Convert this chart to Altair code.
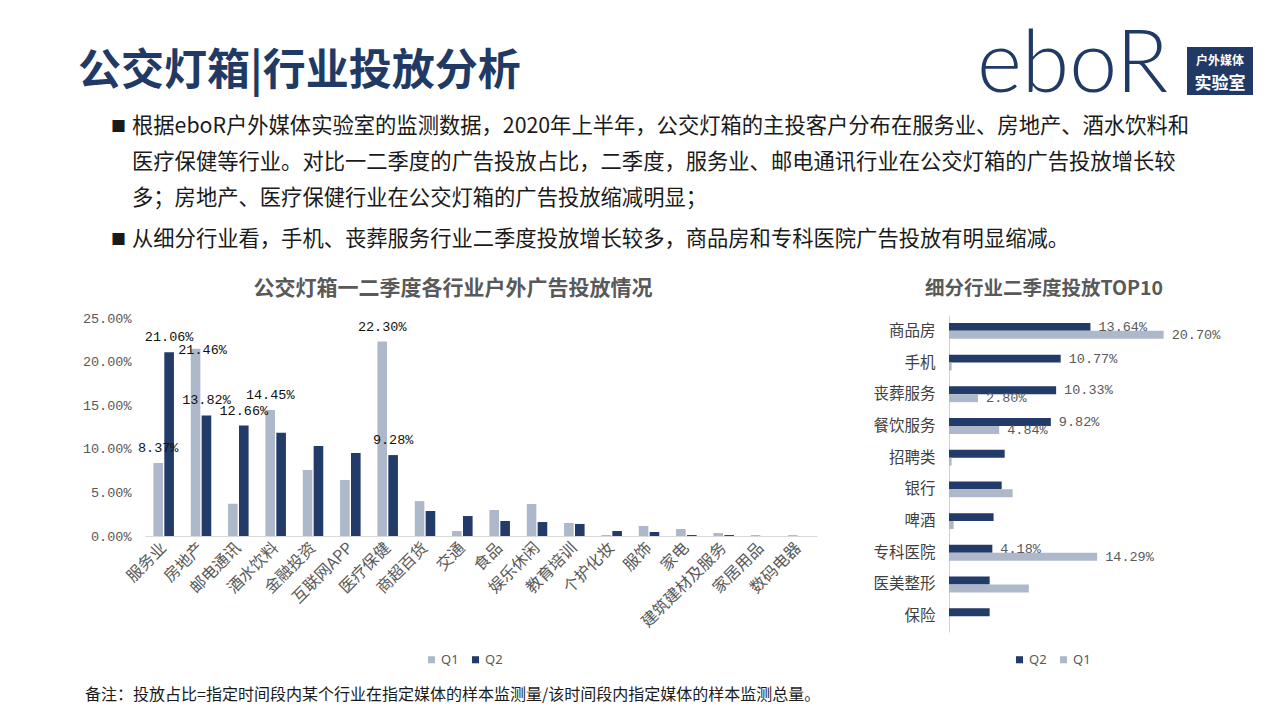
import altair as alt
import pandas as pd

# ---------------- data ----------------
left_cats = ["服务业", "房地产", "邮电通讯", "酒水饮料", "金融投资", "互联网APP", "医疗保健",
             "商超百货", "交通", "食品", "娱乐休闲", "教育培训", "个护化妆", "服饰", "家电",
             "建筑建材及服务", "家居用品", "数码电器"]
left_q1 = [8.37, 21.46, 3.70, 14.45, 7.57, 6.42, 22.30, 4.00, 0.57, 2.98, 3.67, 1.49, 0.11,
           1.15, 0.80, 0.34, 0.11, 0.11]
left_q2 = [21.06, 13.82, 12.66, 11.85, 10.32, 9.52, 9.28, 2.87, 2.29, 1.72, 1.60, 1.38, 0.57,
           0.46, 0.11, 0.11, 0.00, 0.00]
left_labeled = [("服务业", "Q1"), ("服务业", "Q2"), ("房地产", "Q1"), ("房地产", "Q2"),
                ("邮电通讯", "Q2"), ("酒水饮料", "Q1"), ("医疗保健", "Q1"), ("医疗保健", "Q2")]
# the one label that sits beside its bar instead of above it
left_side_label = ("房地产", "Q1")

right_cats = ["商品房", "手机", "丧葬服务", "餐饮服务", "招聘类", "银行", "啤酒", "专科医院",
              "医美整形", "保险"]
right_q2 = [13.64, 10.77, 10.33, 9.82, 5.37, 5.08, 4.30, 4.18, 3.92, 3.92]
right_q1 = [20.70, 0.25, 2.80, 4.84, 0.25, 6.14, 0.45, 14.29, 7.70, 0.00]
right_labeled = [("商品房", "Q2"), ("商品房", "Q1"), ("手机", "Q2"), ("丧葬服务", "Q2"),
                 ("丧葬服务", "Q1"), ("餐饮服务", "Q2"), ("餐饮服务", "Q1"),
                 ("专科医院", "Q2"), ("专科医院", "Q1")]

page_title = "公交灯箱|行业投放分析"
bullet_lines = [
    "根据eboR户外媒体实验室的监测数据，2020年上半年，公交灯箱的主投客户分布在服务业、房地产、酒水饮料和",
    "医疗保健等行业。对比一二季度的广告投放占比，二季度，服务业、邮电通讯行业在公交灯箱的广告投放增长较",
    "多；房地产、医疗保健行业在公交灯箱的广告投放缩减明显；",
    "从细分行业看，手机、丧葬服务行业二季度投放增长较多，商品房和专科医院广告投放有明显缩减。",
]
left_title = "公交灯箱一二季度各行业户外广告投放情况"
right_title = "细分行业二季度投放TOP10"
footnote = "备注：投放占比=指定时间段内某个行业在指定媒体的样本监测量/该时间段内指定媒体的样本监测总量。"

# ---------------- styles ----------------
NAVY = "#213A65"
LIGHT = "#ADB9CA"
DARK = "#233B68"
GRAY = "#595959"
CJK = "Noto Sans CJK SC"
MONO = "Liberation Mono"

rows = []
for c, a, b in zip(left_cats, left_q1, left_q2):
    for q, v in (("Q1", a), ("Q2", b)):
        rows.append({"行业": c, "季度": q, "占比": v,
                     "标注": (c, q) in left_labeled and (c, q) != left_side_label,
                     "侧标": (c, q) == left_side_label})
ldf = pd.DataFrame(rows)
ldf["文本"] = ldf["占比"].map(lambda v: f"{v:.2f}%")

rows = []
for c, a, b in zip(right_cats, right_q1, right_q2):
    rows.append({"细分行业": c, "季度": "Q2", "占比": b, "标注": (c, "Q2") in right_labeled})
    rows.append({"细分行业": c, "季度": "Q1", "占比": a, "标注": (c, "Q1") in right_labeled})
rdf = pd.DataFrame(rows)
rdf["文本"] = rdf["占比"].map(lambda v: f"{v:.2f}%")


def txt(s, x, y, size, color="#1a1a1a", weight="normal", align="left", font=CJK,
        baseline="middle"):
    return alt.Chart(alt.Data(values=[{"k": 1}])).mark_text(
        text=s, fontSize=size, color=color, fontWeight=weight, align=align, font=font,
        baseline=baseline
    ).encode(x=alt.value(x), y=alt.value(y))


# ---------------- left chart ----------------
lx = alt.X("行业:N", sort=left_cats,
           scale=alt.Scale(domain=left_cats, range=[145, 817], paddingInner=0.45, paddingOuter=0.225),
           axis=alt.Axis(orient="bottom", offset=-184, title=None, labelAngle=315,
                         labelAlign="right", labelBaseline="middle", labelPadding=9,
                         labelFont=CJK, labelFontSize=16, labelColor=GRAY, labelOverlap=False,
                         ticks=False, tickSize=0, domainColor="#d9d9d9", grid=False))
ly = alt.Y("占比:Q",
           scale=alt.Scale(domain=[0, 25], range=[536, 318], nice=False, zero=True),
           axis=alt.Axis(orient="left", offset=-145, title=None, values=[0, 5, 10, 15, 20, 25],
                         labelExpr="format(datum.value, '.2f') + '%'", labelFont=MONO,
                         labelFontSize=13.5, labelColor=GRAY, labelPadding=14, domain=False,
                         ticks=False, tickSize=0, grid=False))
lxo = alt.XOffset("季度:N", sort=["Q1", "Q2"], scale=alt.Scale(domain=["Q1", "Q2"], paddingInner=0.12))
lcolor = alt.Color("季度:N",
                   scale=alt.Scale(domain=["Q1", "Q2"], range=[LIGHT, DARK]),
                   legend=alt.Legend(orient="none", legendX=425, legendY=653, direction="horizontal",
                                     title=None, symbolType="square", symbolSize=50,
                                     symbolStrokeWidth=0, labelFont="Noto Sans", labelFontSize=13,
                                     labelColor=GRAY, columnPadding=10, padding=0, labelOffset=3))

left_bars = alt.Chart(ldf).mark_bar().encode(x=lx, y=ly, xOffset=lxo, color=lcolor)
left_labels = alt.Chart(ldf).transform_filter("datum['标注']").mark_text(
    font=MONO, fontSize=13.5, color="#111111", baseline="bottom", dy=-8
).encode(x=lx, y=ly, xOffset=lxo, text="文本:N")
left_side = alt.Chart(ldf).transform_filter("datum['侧标']").mark_text(
    font=MONO, fontSize=13.5, color="#111111", baseline="middle", align="center", dx=7, dy=1
).encode(x=lx, y=ly, xOffset=lxo, text="文本:N")
left_chart = alt.layer(left_bars, left_labels, left_side)

# ---------------- right chart ----------------
ry = alt.Y("细分行业:N", sort=right_cats,
           scale=alt.Scale(domain=right_cats, range=[315, 632], paddingInner=0.5, paddingOuter=0.25),
           axis=alt.Axis(orient="left", offset=-949, title=None, labelFont=CJK, labelFontSize=15.5,
                         labelColor="#404040", labelPadding=14, ticks=False, tickSize=0,
                         domainColor="#d0d0d0", grid=False))
rx = alt.X("占比:Q", scale=alt.Scale(domain=[0, 25], range=[949, 1208.25], nice=False), axis=None)
ryo = alt.YOffset("季度:N", sort=["Q2", "Q1"],
                  scale=alt.Scale(domain=["Q2", "Q1"], paddingInner=0, paddingOuter=0))
rcolor = alt.Color("季度:N",
                   scale=alt.Scale(domain=["Q2", "Q1"], range=[DARK, LIGHT]),
                   legend=alt.Legend(orient="none", legendX=1013, legendY=653, direction="horizontal",
                                     title=None, symbolType="square", symbolSize=50,
                                     symbolStrokeWidth=0, labelFont="Noto Sans", labelFontSize=13,
                                     labelColor=GRAY, columnPadding=10, padding=0, labelOffset=3))
right_bars = alt.Chart(rdf).mark_bar().encode(x=rx, y=ry, yOffset=ryo, color=rcolor)
right_labels = alt.Chart(rdf).transform_filter("datum['标注']").mark_text(
    font=MONO, fontSize=13.5, color=GRAY, align="left", baseline="middle", dx=8
).encode(x=rx, y=ry, yOffset=ryo, text="文本:N")
right_chart = alt.layer(right_bars, right_labels)

# ---------------- page decorations ----------------
deco = []
deco.append(txt(page_title, 78, 72, 43, color=NAVY, weight="bold"))
deco.append(txt("eboR", 977, 66, 86, color=NAVY, font="Lato", weight=300))
deco.append(alt.Chart(alt.Data(values=[{"k": 1}])).mark_rect(color=NAVY).encode(
    x=alt.value(1187), x2=alt.value(1253), y=alt.value(47), y2=alt.value(95)))
deco.append(txt("户外媒体", 1220, 61, 12, color="white", weight="bold", align="center"))
deco.append(txt("实验室", 1220, 84, 17, color="white", weight="bold", align="center"))

line_y = [127, 163, 199, 240]
for i, (s, yy) in enumerate(zip(bullet_lines, line_y)):
    if i in (0, 3):
        deco.append(txt("■", 111, yy, 15, color="#1a1a1a"))
    deco.append(txt(s, 132, yy, 21.3, color="#1a1a1a"))

deco.append(txt(left_title, 453, 289, 21, color=GRAY, weight="bold", align="center"))
deco.append(txt(right_title, 1044, 289, 19.5, color=GRAY, weight="bold", align="center"))
deco.append(txt(footnote, 85, 695, 16, color="#1a1a1a"))

chart = alt.layer(*deco, left_chart, right_chart).resolve_scale(
    x="independent", y="independent", color="independent"
).resolve_axis(x="independent", y="independent").resolve_legend(color="independent").properties(
    width=1280, height=720, padding=0, autosize=alt.AutoSizeParams(type="none"),
    background="white"
).configure_view(stroke=None)

chart.save("out.html", embed_options={"renderer": "svg", "actions": False})
